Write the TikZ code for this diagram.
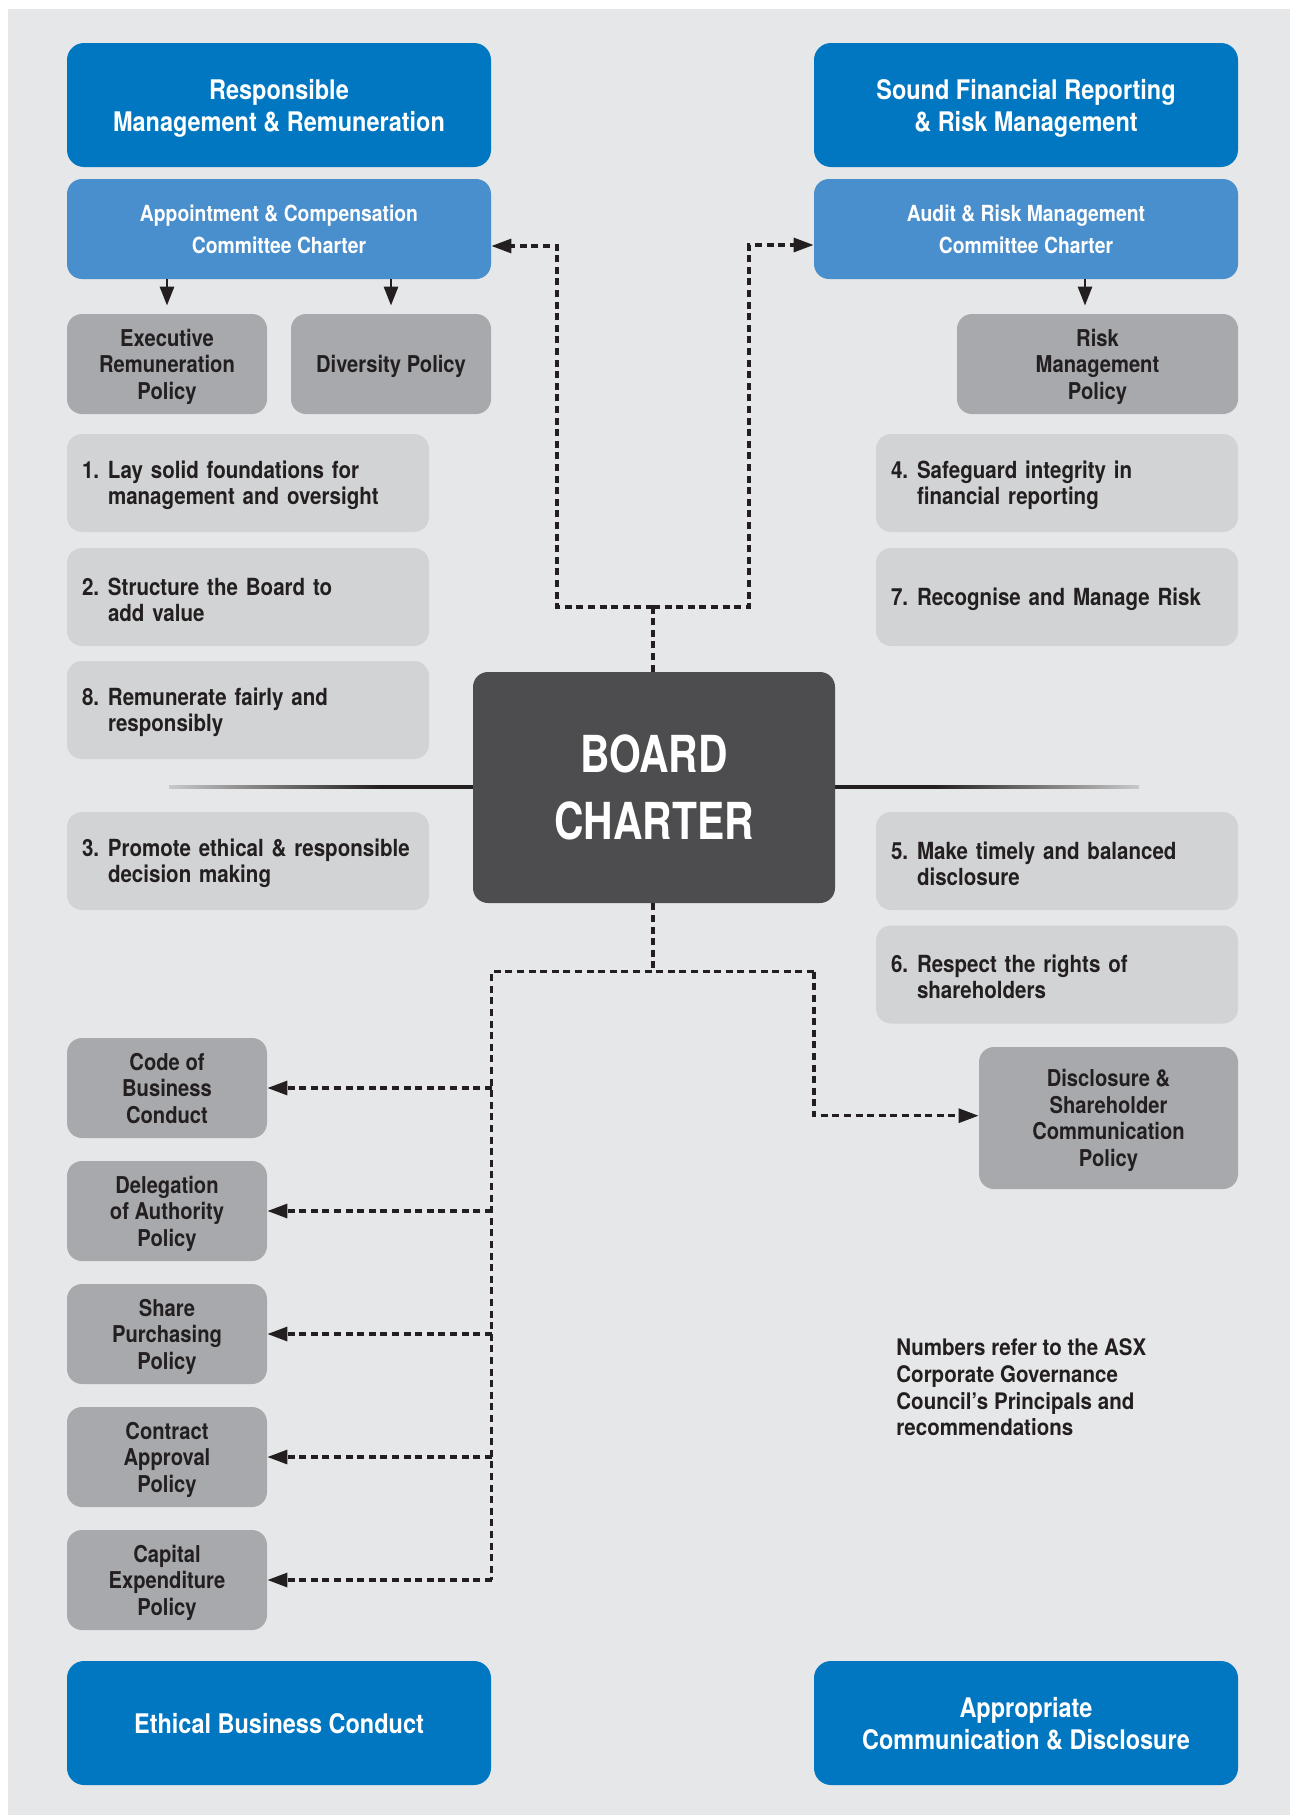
\documentclass[tikz,border=0pt]{standalone}
\usepackage{fontspec}
\setmainfont{TeX Gyre Heros}[FakeStretch=0.87]
\newfontfamily\boardfamily{TeX Gyre Heros}[FakeStretch=0.80]
\newfontfamily\notefamily{TeX Gyre Heros}[FakeStretch=0.90]
\usetikzlibrary{arrows.meta}

\definecolor{panelbg}{RGB}{230,231,232}
\definecolor{hdrblue}{RGB}{0,119,192}
\definecolor{comblue}{RGB}{74,143,205}
\definecolor{polgray}{RGB}{167,169,172}
\definecolor{prngray}{RGB}{209,211,212}
\definecolor{boardgray}{RGB}{77,77,79}
\definecolor{ink}{RGB}{35,31,32}
\definecolor{fadegray}{RGB}{200,201,202}

\newcommand\hdrfont{\bfseries\fontsize{13.5}{16}\selectfont}
\newcommand\comfont{\bfseries\fontsize{11.1}{15.75}\selectfont}
\newcommand\polfont{\bfseries\fontsize{11.6}{13.3}\selectfont}
\newcommand\prnfont{\bfseries\fontsize{11.8}{12.9}\selectfont}
\newcommand\notefont{\notefamily\bfseries\fontsize{11.4}{13.3}\selectfont}
\newcommand\boardfont{\boardfamily\bfseries\fontsize{25.5}{33.3}\selectfont}
% number of a principle, with a strut that sets the first line's height
\newcommand\prnum[1]{\rule{0pt}{11.4pt}\makebox[13pt][l]{#1}}
\newcommand\ind{\hspace*{13pt}}

\begin{document}
\begin{tikzpicture}[x=0.5pt, y=-0.5pt,
  hdr/.style={fill=hdrblue, rounded corners=8.5pt, text=white, font=\hdrfont,
    align=center, minimum width=212pt, minimum height=62pt, inner sep=0pt, text depth=0pt},
  com/.style={fill=comblue, rounded corners=7.5pt, text=white, font=\comfont,
    align=center, minimum width=212pt, minimum height=50pt, inner sep=0pt, text depth=0pt},
  pol/.style={fill=polgray, rounded corners=7.5pt, text=ink, font=\polfont,
    align=center, minimum width=100pt, minimum height=50pt, inner sep=0pt, text depth=0pt},
  prn/.style={fill=prngray, rounded corners=7.5pt, text=ink, font=\prnfont,
    align=left, text width=166pt, inner xsep=7.5pt, inner ysep=0pt, minimum height=49pt},
  board/.style={fill=boardgray, rounded corners=7.5pt, text=white, font=\boardfont,
    align=center, minimum width=181pt, minimum height=115.5pt, inner sep=0pt},
  solidarrow/.style={draw=ink, line width=1.4pt, -{Triangle[length=9.5pt,width=7pt]}},
  dashline/.style={draw=ink, line width=1.55pt, dash pattern=on 3.5pt off 2.3pt},
  dasharrow/.style={dashline, -{Triangle[length=10pt,width=7pt]}}
]
% canvas and grey panel
\useasboundingbox (0,0) rectangle (1290,1815);
\fill[white] (0,0) rectangle (1290,1815);
\fill[panelbg] (8,9) rectangle (1290,1815);

% four governance themes
\node[hdr] (hTL) at (279,105) {Responsible\\Management \& Remuneration};
\node[hdr] (hTR) at (1026,105) {Sound Financial Reporting\\\& Risk Management};
\node[hdr] (hBL) at (279,1723) {Ethical Business Conduct};
\node[hdr] (hBR) at (1026,1723) {Appropriate\\Communication \& Disclosure};

% committee charters
\node[com] (cL) at (279,229) {Appointment \& Compensation\\Committee Charter};
\node[com] (cR) at (1026,229) {Audit \& Risk Management\\Committee Charter};

% policies under the committees
\node[pol] (exec) at (167,364) {Executive\\Remuneration\\Policy};
\node[pol] (div) at (391,364) {Diversity Policy};
\node[pol, minimum width=140.5pt] (risk) at (1097.5,364) {Risk\\Management\\Policy};

% principles, left column
\node[prn] (p1) at (248,483) {\prnum{1.}Lay solid foundations for\\\ind management and oversight};
\node[prn] (p2) at (248,597) {\prnum{2.}Structure the Board to\\\ind add value};
\node[prn] (p8) at (248,710) {\prnum{8.}Remunerate fairly and\\\ind responsibly};
\node[prn] (p3) at (248,861) {\prnum{3.}Promote ethical \& responsible\\\ind decision making};

% principles, right column
\node[prn] (p4) at (1057,483) {\prnum{4.}Safeguard integrity in\\\ind financial reporting};
\node[prn] (p7) at (1057,597) {\prnum{7.}Recognise and Manage Risk};
\node[prn] (p5) at (1057,861) {\prnum{5.}Make timely and balanced\\\ind disclosure};
\node[prn] (p6) at (1057,974.5) {\prnum{6.}Respect the rights of\\\ind shareholders};

% horizontal rules fading out from the board
\shade[left color=fadegray, right color=ink] (169,785.3) rectangle (380,788.7);
\fill[ink] (379,785.3) rectangle (473,788.7);
\fill[ink] (835,785.3) rectangle (935,788.7);
\shade[left color=ink, right color=fadegray] (934,785.3) rectangle (1139,788.7);

% central board charter
\node[board] (board) at (654,787.5) {BOARD\\CHARTER};

% policies reached from the board
\node[pol] (code) at (167,1088) {Code of\\Business\\Conduct};
\node[pol] (deleg) at (167,1211) {Delegation\\of Authority\\Policy};
\node[pol] (share) at (167,1334) {Share\\Purchasing\\Policy};
\node[pol] (contract) at (167,1457) {Contract\\Approval\\Policy};
\node[pol] (capital) at (167,1580) {Capital\\Expenditure\\Policy};
\node[pol, minimum width=129.5pt, minimum height=71pt] (disc) at (1108.5,1118)
  {Disclosure \&\\Shareholder\\Communication\\Policy};

% footnote
\node[anchor=north west, inner sep=0pt, align=left, text=ink, font=\notefont] (note)
  at (896,1338.5) {Numbers refer to the ASX\\Corporate Governance\\Council’s Principals and\\recommendations};

% committee to policy arrows
\draw[solidarrow, shorten >=4pt] (exec.north |- cL.south) -- (exec.north);
\draw[solidarrow, shorten >=4pt] (div.north |- cL.south) -- (div.north);
\coordinate (rk) at ([xshift=-6.25pt]risk.north);
\draw[solidarrow, shorten >=4pt] (rk |- cR.south) -- (rk);

% board up to the committees
\coordinate (tj) at (653,607);
\coordinate (tl) at (557,246);
\coordinate (tr) at (749,245);
\draw[dashline] (board.north -| tj) -- (tj);
\draw[dasharrow] (tj) -| (tl) -- (tl -| cL.east);
\draw[dasharrow] (tj) -| (tr) -- (tr -| cR.west);

% board down to the policies
\coordinate (bj) at (653,971.7);
\coordinate (lx) at (491.7,971.7);
\coordinate (rx) at (814,971.7);
\draw[dashline] (board.south -| bj) -- (bj);
\draw[dashline] (rx) -- (bj) -- (lx) -- (lx |- capital.east);
\foreach \n in {code,deleg,share,contract,capital}
  \draw[dasharrow] (lx |- \n.east) -- (\n.east);
\draw[dasharrow] (rx) -- (rx |- 0,1115.7) -- (disc.west |- 0,1115.7);
\end{tikzpicture}
\end{document}
